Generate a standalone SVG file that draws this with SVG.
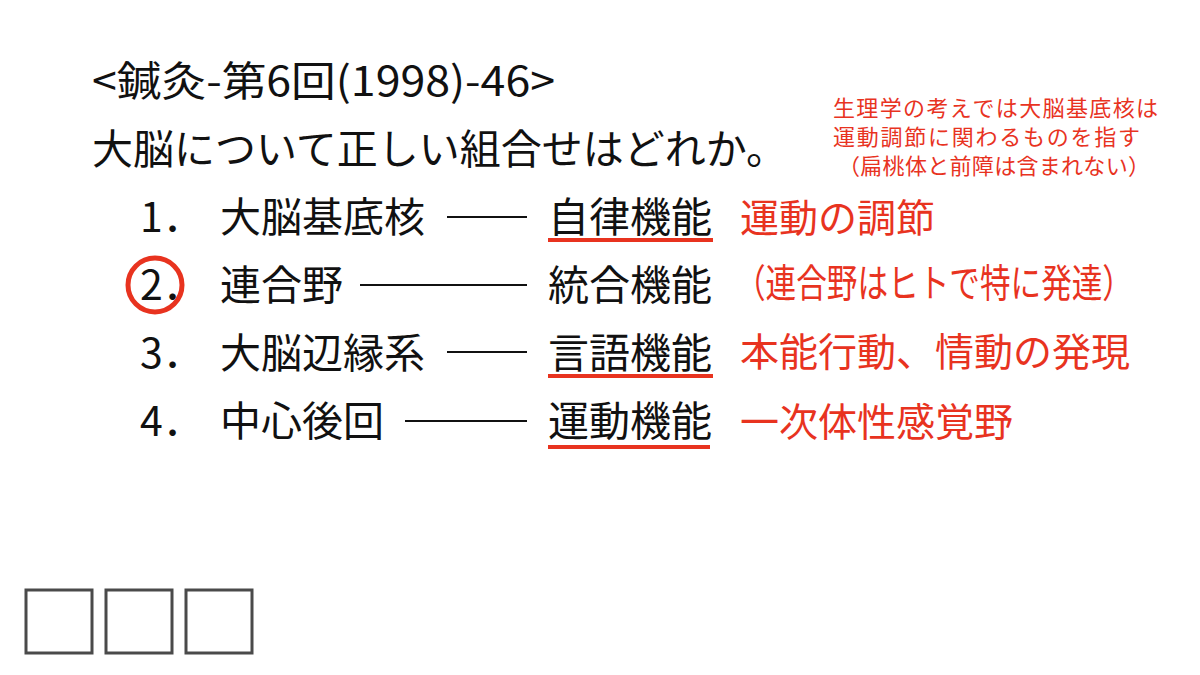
<svg xmlns="http://www.w3.org/2000/svg" width="1200" height="675" viewBox="0 0 1200 675">
<style>
text{font-family:"Noto Sans CJK JP","Noto Sans",sans-serif;}
.k{fill:#111;font-size:41px;}
.r{fill:#e8331f;font-size:39px;}
.s{fill:#e8331f;font-size:22px;}
.ln{stroke:#111;stroke-width:2;}
.ul{stroke:#e8331f;stroke-width:4;}
.bx{fill:none;stroke:#4a4a4a;stroke-width:3;}
</style>
<rect width="1200" height="675" fill="#fff"/>
<text class="k" x="92" y="96" font-size="40" textLength="463" lengthAdjust="spacingAndGlyphs">&lt;鍼灸-第6回(1998)-46&gt;</text>
<text class="k" x="92" y="164">大脳について正しい組合せはどれか。</text>
<text class="s" x="833" y="116" textLength="325">生理学の考えでは大脳基底核は</text>
<text class="s" x="833" y="145" textLength="307">運動調節に関わるものを指す</text>
<text class="s" x="838" y="174" textLength="312">（扁桃体と前障は含まれない）</text>
<g id="item1">
<text class="k" x="140" y="232">1．</text><text class="k" x="220" y="232">大脳基底核</text>
<line class="ln" x1="447" y1="217" x2="527" y2="217"/>
<text class="k" x="548" y="232">自律機能</text>
<line class="ul" x1="548" y1="240" x2="713" y2="240"/>
<text class="r" x="740" y="232">運動の調節</text>
</g>
<g id="item2">
<text class="k" x="140" y="300">2．</text><text class="k" x="220" y="300">連合野</text>
<circle cx="155" cy="285" r="27" fill="none" stroke="#e8331f" stroke-width="5"/>
<line class="ln" x1="360" y1="285" x2="527" y2="285"/>
<text class="k" x="548" y="300">統合機能</text>
<text class="r" x="735" y="297" font-size="28" textLength="398" lengthAdjust="spacingAndGlyphs">（連合野はヒトで特に発達）</text>
</g>
<g id="item3">
<text class="k" x="140" y="368">3．</text><text class="k" x="220" y="368">大脳辺縁系</text>
<line class="ln" x1="447" y1="352" x2="527" y2="352"/>
<text class="k" x="548" y="368">言語機能</text>
<line class="ul" x1="548" y1="376" x2="713" y2="376"/>
<text class="r" x="740" y="366">本能行動、情動の発現</text>
</g>
<g id="item4">
<text class="k" x="140" y="436">4．</text><text class="k" x="220" y="436">中心後回</text>
<line class="ln" x1="405" y1="421" x2="527" y2="421"/>
<text class="k" x="548" y="436">運動機能</text>
<line class="ul" x1="548" y1="447" x2="710" y2="447"/>
<text class="r" x="740" y="436">一次体性感覚野</text>
</g>
<rect class="bx" x="26" y="590" width="66" height="63"/>
<rect class="bx" x="106" y="590" width="66" height="63"/>
<rect class="bx" x="186" y="590" width="66" height="63"/>
</svg>
